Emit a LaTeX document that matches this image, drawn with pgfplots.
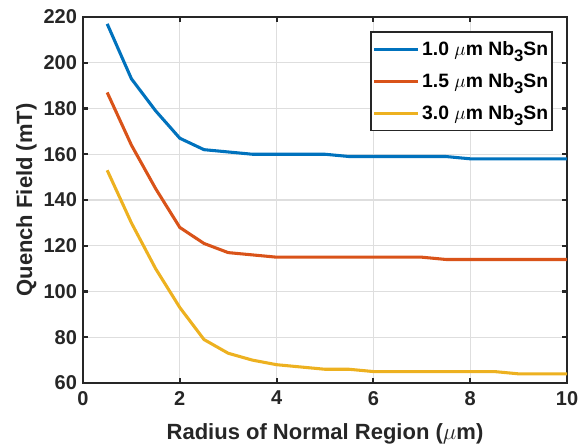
\documentclass[border=0pt]{standalone}
\usepackage{fontspec}
\setmainfont{Liberation Sans}
\usepackage{pgfplots}
\pgfplotsset{compat=1.18}
\definecolor{mblue}{rgb}{0,0.447,0.741}
\definecolor{mred}{rgb}{0.85,0.325,0.098}
\definecolor{myel}{rgb}{0.929,0.694,0.125}
\definecolor{axc}{rgb}{0.15,0.15,0.15}
\newcommand{\nbs}{Nb\raisebox{-4.5pt}{\fontsize{12.5}{12.5}\selectfont 3}Sn}
\begin{document}
\begin{tikzpicture}
\begin{axis}[
  width=363pt, height=274.5pt, scale only axis,
  xmin=0, xmax=10, ymin=60, ymax=220,
  xtick={0,2,...,10}, ytick={60,80,...,220},
  grid=major, grid style={black!13, line width=1pt},
  axis line style={line width=1.6pt, color=axc},
  tick style={line width=1.6pt, color=axc},
  tick align=inside, major tick length=4pt,
  /pgf/number format/assume math mode=true,
  tick label style={font=\fontsize{15}{18}\selectfont\bfseries, color=axc},
  xticklabel style={yshift=-2.5pt},
  yticklabel style={xshift=-1pt},
  label style={font=\fontsize{16.5}{20}\selectfont\bfseries, color=axc},
  xlabel={Radius of Normal Region ($\mu$m)},
  ylabel={Quench Field (mT)},
  xlabel style={at={(axis description cs:0.5,0)}, anchor=base, yshift=-42.75pt},
  ylabel style={at={(axis description cs:-0.105,0.5)}, anchor=base, rotate=0},
  legend style={at={(0.971,0.962)}, anchor=north east, draw=axc, line width=1.3pt,
    font=\fontsize{14.5}{17}\selectfont\bfseries, inner xsep=1pt, inner ysep=5pt,
    row sep=8pt},
  legend cell align=left,
  legend image code/.code={\draw[#1, line width=2.3pt] (0pt,0pt) -- (33pt,0pt);},
]
\addplot[mblue, line width=2.3pt] coordinates {
(0.5,217) (1,193) (1.5,179) (2,167) (2.5,162) (3,161) (3.5,160) (4,160) (4.5,160) (5,160)
(5.5,159) (6,159) (6.5,159) (7,159) (7.5,159) (8,158) (8.5,158) (9,158) (9.5,158) (10,158)};
\addlegendentry{1.0 $\mu$m \nbs}
\addplot[mred, line width=2.3pt] coordinates {
(0.5,187) (1,164) (1.5,145) (2,128) (2.5,121) (3,117) (3.5,116) (4,115) (4.5,115) (5,115)
(5.5,115) (6,115) (6.5,115) (7,115) (7.5,114) (8,114) (8.5,114) (9,114) (9.5,114) (10,114)};
\addlegendentry{1.5 $\mu$m \nbs}
\addplot[myel, line width=2.3pt] coordinates {
(0.5,153) (1,130) (1.5,110) (2,93) (2.5,79) (3,73) (3.5,70) (4,68) (4.5,67) (5,66)
(5.5,66) (6,65) (6.5,65) (7,65) (7.5,65) (8,65) (8.5,65) (9,64) (9.5,64) (10,64)};
\addlegendentry{3.0 $\mu$m \nbs}
\end{axis}
\pgfresetboundingbox
\path ([shift={(-62.25pt,-48.75pt)}]current axis.south west) rectangle ([shift={(12.75pt,12.75pt)}]current axis.north east);
\end{tikzpicture}
\end{document}
